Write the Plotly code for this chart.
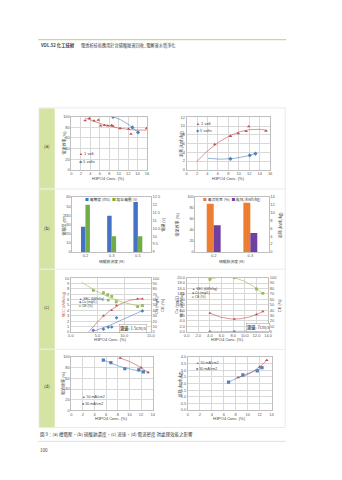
import numpy as np
import plotly.graph_objects as go

W, H = 342, 480
def X(px): return px / W
def Y(py): return 1 - py / H

# ---------------- data ----------------
# (a) cell voltage
a_x_1v = [2.9, 3.8, 4.8, 5.7, 6.2, 7.0, 7.7, 8.5, 8.8, 10.3, 12.1, 12.6, 15.9]
a_ce_1v = [93, 97, 92.5, 94, 83, 84, 83, 84, 82.5, 78, 77, 67.5, 78]
a_x_5v = [8.8, 12.9, 14.1]
a_ce_5v = [100, 80, 70.5]
a_xs_1v = [5.4, 8.4, 9.9, 11.4, 11.9, 15.2]
a_sec_1v = [5.8, 7.7, 8.3, 8.8, 9.9, 8.9]
a_xs_5v = [8.4, 12.1, 13.2]
a_sec_5v = [2.5, 3.3, 3.7]

# (b) Na2SO4 concentration
b_cat = ["0.2", "0.3", "0.5"]
b_cond = [27.5, 39.5, 54.5]
b_volt = [12.0, 10.0, 10.0]
b2_cat = ["0.2", "0.3"]
b2_ce = [87.5, 89.5]
b2_sec = [6.8, 4.8]

# (c) flow rate 1.5 cm/s
c1_x_sec = [6.1, 7.65, 8.55, 12.5, 13.4]
c1_sec = [3.0, 4.0, 4.9, 6.15, 6.15]
c1_x_ce = [4.2, 6.1, 6.9, 7.65, 7.0, 8.5, 12.5, 13.4]
c1_ce = [77, 73, 69, 66, 59, 56, 47, 49]
c1_x_cu = [4.2, 6.1, 7.0, 7.65, 8.55, 13.4]
c1_cu = [3, 5, 8.5, 9, 26, 39]
# (c) flow rate 7 cm/s
c2_x = [4.0, 8.2, 12.0, 13.1]
c2_sec = [6.9, 4.7, 6.4, 7.5]
c2_cu = [0.0, 0.05, 0.4, 0.5]
c2_ce = [97, 100, 79, 71]

# (d) current density
d_x_50 = [8.4, 12.0, 13.2]
d_ce_50 = [98, 80, 71]
d_x_30 = [5.5, 6.8, 9.2, 11.6, 12.4]
d_ce_30 = [94, 89.5, 78, 76, 72]
d_sec_50 = [2.45, 3.25, 3.75]
d_xs_30 = [6.8, 9.2, 11.6, 12.4]
d_sec_30 = [2.1, 2.65, 2.95, 3.2]

RED = '#c0504d'; BLUE = '#4f81bd'; GREEN = '#9bbb59'
BBLUE = '#4472c4'; BGREEN = '#70ad47'; ORANGE = '#ed7d31'; PURPLE = '#7040a0'
TXT = '#404040'
CJK = 'Noto Sans CJK TC, Noto Sans, sans-serif'
TF = dict(family='Liberation Sans, Arial, sans-serif', size=4, color='#595959')

fig = go.Figure()

def pts(x, y, xa, ya, color, symbol, size=3.2):
    fig.add_trace(go.Scatter(x=x, y=y, xaxis=xa, yaxis=ya, mode='markers',
                             marker=dict(color=color, symbol=symbol, size=size, line=dict(width=0)),
                             showlegend=False, hoverinfo='skip'))

def fit(x, y, xa, ya, color, x0, x1, deg=2):
    c = np.polyfit(x, y, deg)
    xs = np.linspace(x0, x1, 80)
    fig.add_trace(go.Scatter(x=xs, y=np.polyval(c, xs), xaxis=xa, yaxis=ya, mode='lines',
                             line=dict(color=color, width=0.6), showlegend=False, hoverinfo='skip'))

def bars(cats, vals, xa, ya, color, offset, width):
    fig.add_trace(go.Bar(x=cats, y=vals, xaxis=xa, yaxis=ya, marker=dict(color=color, line=dict(width=0)),
                         offset=offset, width=width, showlegend=False, hoverinfo='skip'))

# (a) left
pts(a_x_1v, a_ce_1v, 'x', 'y', RED, 'triangle-up')
pts(a_x_5v, a_ce_5v, 'x', 'y', BLUE, 'diamond')
fit(a_x_1v, a_ce_1v, 'x', 'y', RED, 2.9, 15.9)
fit(a_x_5v, a_ce_5v, 'x', 'y', BLUE, 8.8, 14.1)
# (a) right
pts(a_xs_1v, a_sec_1v, 'x2', 'y2', RED, 'triangle-up')
pts(a_xs_5v, a_sec_5v, 'x2', 'y2', BLUE, 'diamond')
fit(a_xs_1v, a_sec_1v, 'x2', 'y2', RED, 1.9, 15.2)
fit(a_xs_5v, a_sec_5v, 'x2', 'y2', BLUE, 4.1, 13.2)
# (b) left
bars(b_cat, b_cond, 'x3', 'y3', BBLUE, -0.17, 0.17)
bars(b_cat, b_volt, 'x3', 'y4', BGREEN, 0.0, 0.17)
# (b) right
bars(b2_cat, b2_ce, 'x4', 'y5', ORANGE, -0.19, 0.19)
bars(b2_cat, b2_sec, 'x4', 'y6', PURPLE, 0.0, 0.19)
# (c) left
pts(c1_x_sec, c1_sec, 'x5', 'y7', RED, 'triangle-up', 2.8)
pts(c1_x_cu, c1_cu, 'x5', 'y8', BLUE, 'diamond', 2.8)
pts(c1_x_ce, c1_ce, 'x5', 'y8', GREEN, 'square', 2.8)
fit(c1_x_sec, c1_sec, 'x5', 'y7', RED, 1.5, 13.4)
fit(c1_x_cu, c1_cu, 'x5', 'y8', BLUE, 3.1, 13.4)
fit(c1_x_ce, c1_ce, 'x5', 'y8', GREEN, 2.0, 13.4)
# (c) right
pts(c2_x, c2_sec, 'x6', 'y9', RED, 'triangle-up', 2.8)
pts(c2_x, c2_cu, 'x6', 'y9', BLUE, 'diamond', 2.8)
pts(c2_x, c2_ce, 'x6', 'y10', GREEN, 'square', 2.8)
fit(c2_x, c2_sec, 'x6', 'y9', RED, 4.0, 13.1)
fit(c2_x, c2_cu, 'x6', 'y9', BLUE, 4.0, 13.1)
fit(c2_x, c2_ce, 'x6', 'y10', GREEN, 4.0, 13.1)
# (d) left
pts(d_x_50, d_ce_50, 'x7', 'y11', RED, 'triangle-up')
pts(d_x_30, d_ce_30, 'x7', 'y11', BLUE, 'square')
fit(d_x_50, d_ce_50, 'x7', 'y11', RED, 8.4, 13.2)
fit(d_x_30, d_ce_30, 'x7', 'y11', BLUE, 5.5, 12.4)
# (d) right
pts(d_x_50, d_sec_50, 'x8', 'y12', RED, 'triangle-up')
pts(d_xs_30, d_sec_30, 'x8', 'y12', BLUE, 'square')
fit(d_x_50, d_sec_50, 'x8', 'y12', RED, 8.4, 13.2)
fit(d_xs_30, d_sec_30, 'x8', 'y12', BLUE, 6.8, 12.4)

LC = '#bfbfbf'
def xax(px0, px1, anchor, rng=None, dtick=None, fmt=None, grid=True, cat=False):
    d = dict(domain=[X(px0), X(px1)], anchor=anchor, tickfont=TF, showline=True, mirror=True,
             linecolor=LC, linewidth=0.5, showgrid=grid, gridcolor='#d9d9d9', gridwidth=0.4,
             zeroline=False, ticks='', fixedrange=True)
    if cat:
        d['type'] = 'category'
    else:
        d.update(range=rng, dtick=dtick, tick0=rng[0])
    if fmt:
        d['tickformat'] = fmt
    return d

def yax(py0, py1, anchor, rng, dtick, fmt=None, grid=True):
    d = dict(domain=[Y(py1), Y(py0)], anchor=anchor, range=rng, dtick=dtick, tick0=rng[0],
             tickfont=TF, showline=True, mirror=True, linecolor=LC, linewidth=0.5,
             showgrid=grid, gridcolor='#d9d9d9', gridwidth=0.4, zeroline=False, ticks='', fixedrange=True)
    if fmt:
        d['tickformat'] = fmt
    return d

def y2ax(over, anchor, rng, dtick, fmt=None):
    d = dict(overlaying=over, anchor=anchor, side='right', range=rng, dtick=dtick, tick0=rng[0],
             tickfont=TF, showline=True, linecolor=LC, linewidth=0.5, showgrid=False,
             zeroline=False, ticks='', fixedrange=True)
    if fmt:
        d['tickformat'] = fmt
    return d

layout = dict(
    width=W, height=H, autosize=False, margin=dict(l=0, r=0, t=0, b=0),
    paper_bgcolor='white', plot_bgcolor='white', showlegend=False, barmode='overlay',
    xaxis=xax(70, 147.5, 'y', [0, 16], 2),
    yaxis=yax(115, 168.5, 'x', [0, 100], 20),
    xaxis2=xax(188, 273.5, 'y2', [0, 16], 2),
    yaxis2=yax(115.5, 168.5, 'x2', [0, 12], 2),
    xaxis3=xax(71, 151.5, 'y3', cat=True, grid=False),
    yaxis3=yax(196, 251.5, 'x3', [0, 60], 10, grid=False),
    yaxis4=y2ax('y3', 'x3', [9, 12.5], 0.5),
    xaxis4=xax(197, 272, 'y5', cat=True, grid=False),
    yaxis5=yax(196, 251.5, 'x4', [0, 100], 20, grid=False),
    yaxis6=y2ax('y5', 'x4', [0, 14], 2),
    xaxis5=xax(69.5, 151.5, 'y7', [0, 15], 5, fmt='.1f'),
    yaxis7=yax(278, 332.3, 'x5', [0, 10], 1),
    yaxis8=y2ax('y7', 'x5', [0, 100], 10),
    xaxis6=xax(188, 271.5, 'y9', [0, 14], 2, fmt='.1f'),
    yaxis9=yax(277.5, 332.3, 'x6', [0, 20], 2, fmt='.1f'),
    yaxis10=y2ax('y9', 'x6', [0, 100], 10),
    xaxis7=xax(70, 153.3, 'y11', [0, 14], 2),
    yaxis11=yax(357.7, 411.7, 'x7', [0, 100], 20),
    xaxis8=xax(189.3, 275, 'y12', [0, 14], 2),
    yaxis12=yax(357.7, 411.3, 'x8', [0, 4], 0.5, fmt='.1f'),
)
fig.update_layout(**layout)

# ---------------- page decoration ----------------
shapes = []
def rect(x0, y0, x1, y1, fill=None, line=None, lw=0.6):
    shapes.append(dict(type='rect', xref='paper', yref='paper', x0=X(x0), x1=X(x1), y0=Y(y1), y1=Y(y0),
                       fillcolor=fill or 'rgba(0,0,0,0)', line=dict(color=line or 'rgba(0,0,0,0)', width=lw if line else 0),
                       layer='below'))
def hline(x0, x1, y, color, w):
    shapes.append(dict(type='line', xref='paper', yref='paper', x0=X(x0), x1=X(x1), y0=Y(y), y1=Y(y),
                       line=dict(color=color, width=w), layer='below'))

hline(36, 290, 37, '#c9d98f', 1.4)
hline(36, 290, 443, '#d0d0d0', 0.6)
rect(37, 106, 289, 429, line='#dcdcdc', lw=0.6)
rows = [(106, 188), (188, 269), (269, 350), (350, 429)]
for (r0, r1) in rows:
    rect(37, r0 + 0.5, 53, r1 - 0.5, fill='#d5e4a3')
for yy in (188, 269, 350):
    hline(37, 289, yy, '#dcdcdc', 0.6)

ann = []
def text(x, y, s, size=4.5, color=TXT, xanchor='left', yanchor='middle', angle=0, family=CJK, **kw):
    ann.append(dict(xref='paper', yref='paper', x=X(x), y=Y(y), text=s, showarrow=False,
                    xanchor=xanchor, yanchor=yanchor, textangle=angle,
                    font=dict(size=size, color=color, family=family), **kw))

# header / caption / page number
text(36, 42.5, '<b>VOL.52 化工技術</b>', size=4.3)
text(78, 42.5, '電透析技術應用於含磷酸廢液回收_電解液水質淨化', size=4.2)
text(36, 436, '圖 9：(a) 槽電壓、(b) 硫酸鈉濃度、(c) 流速、(d) 電流密度 對處理效能之影響', size=4.5)
text(36, 451.5, '100', size=4.5)

# row labels
for lab, yy in (('(a)', 145), ('(b)', 227), ('(c)', 307), ('(d)', 387)):
    text(45, yy, lab, size=4.5, xanchor='center')

XT = 'H3PO4 Conc. (%)'
LAT = 'Liberation Sans, Arial, sans-serif'
# axis titles (a)
text(108, 177.5, XT, size=4, xanchor='center', family=LAT)
text(231, 177.5, XT, size=4, xanchor='center', family=LAT)
text(61.5, 142, '電流效率 (%)', size=4, xanchor='center', angle=-90)
text(181.5, 142, '能耗 (kWh/kg)', size=4, xanchor='center', angle=-90)
# (b)
text(111, 261, '硫酸鈉濃度 (M)', size=3.8, xanchor='center')
text(234, 261, '硫酸鈉濃度 (M)', size=3.8, xanchor='center')
text(62.5, 224, '電導度 (mS)', size=4, xanchor='center', angle=-90)
text(164, 224, '電壓 (V)', size=4, xanchor='center', angle=-90)
text(178, 224, '電流效率 (%)', size=4, xanchor='center', angle=-90)
text(283, 224, '能耗 (kWh/kg)', size=4, xanchor='center', angle=-90)
# (c)
text(110, 340, XT, size=4, xanchor='center', family=LAT)
text(230, 340, XT, size=4, xanchor='center', family=LAT)
text(62, 305, 'SEC (kWh/kg)', size=4, xanchor='center', angle=-90, color='#c0504d', family=LAT)
text(160, 305, 'Cu (mg/L)<br>CE (%)', size=4, xanchor='center', angle=-90, family=LAT)
text(180, 305, 'Cu (mg/L)<br>SEC (kWh/kg)', size=4, xanchor='center', angle=-90, family=LAT)
text(283, 305, 'CE (%)', size=4, xanchor='center', angle=-90, family=LAT)
# (d)
text(111.5, 420, XT, size=4, xanchor='center', family=LAT)
text(232, 420, XT, size=4, xanchor='center', family=LAT)
text(61.5, 385, '電流效率 (%)', size=4, xanchor='center', angle=-90)
text(181.5, 385, '能耗 (kWh/kg)', size=4, xanchor='center', angle=-90)

def sym(color, s):
    return '<span style="color:%s">%s</span>' % (color, s)

# legends
text(76, 152.5, sym(RED, '▲') + ' 1 volt', size=4, family=LAT)
text(76, 160, sym(BLUE, '◆') + ' 5 volts', size=4, family=LAT)
text(196, 121.5, sym(RED, '▲') + ' 1 volt', size=4, family=LAT)
text(196, 128.5, sym(BLUE, '◆') + ' 5 volts', size=4, family=LAT)
text(111, 199, sym(BBLUE, '■') + ' 電導度 (mS)  ' + sym(BGREEN, '■') + ' 起始電壓 (V)', size=3.8, xanchor='center')
text(234, 199, sym(ORANGE, '■') + ' 電流效率 (%)  ' + sym(PURPLE, '■') + ' 能耗 (kWh/kg)', size=3.8, xanchor='center')
text(76, 299.3, sym(RED, '▲') + ' SEC (kWh/kg)', size=3.3, family=LAT)
text(76, 302.6, sym(BLUE, '◆') + ' Cu (mg/L)', size=3.3, family=LAT)
text(76, 305.9, sym(GREEN, '■') + ' CE (%)', size=3.3, family=LAT)
text(191, 289, sym(RED, '▲') + ' SEC (kWh/kg)', size=3.3, family=LAT)
text(191, 293.2, sym(BLUE, '◆') + ' Cu (mg/L)', size=3.3, family=LAT)
text(191, 297.4, sym(GREEN, '■') + ' CE (%)', size=3.3, family=LAT)
text(79, 398.5, sym(RED, '▲') + ' 50 mA/cm2', size=3.6, family=LAT)
text(79, 405.7, sym(BLUE, '■') + ' 30 mA/cm2', size=3.6, family=LAT)
text(196, 364, sym(RED, '▲') + ' 50 mA/cm2', size=3.6, family=LAT)
text(196, 370.2, sym(BLUE, '■') + ' 30 mA/cm2', size=3.6, family=LAT)

# flow-rate boxes
text(133.5, 329, '<b>流速</b>: 1.5cm/s', size=4.2, xanchor='center', bordercolor='#7f7f7f', borderwidth=0.4, borderpad=0.6, bgcolor='white')
text(261, 328, '<b>流速</b>: 7cm/s', size=4.2, xanchor='center', bordercolor='#7f7f7f', borderwidth=0.4, borderpad=0.6, bgcolor='white')

fig.update_layout(shapes=shapes, annotations=ann)
fig.write_html('out.html')
